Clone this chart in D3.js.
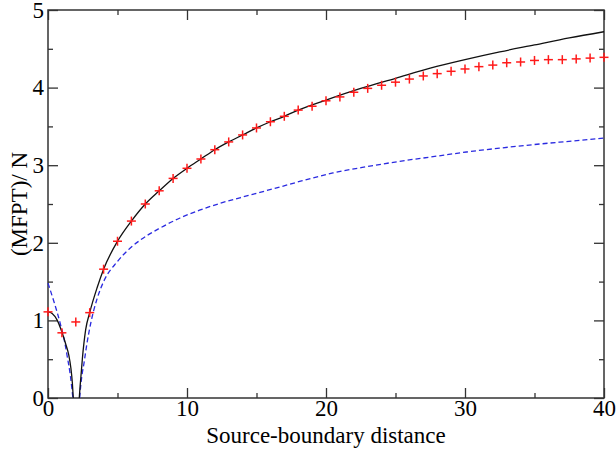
<!DOCTYPE html>
<html>
<head>
<meta charset="utf-8">
<script src="https://cdn.jsdelivr.net/npm/d3@7"></script>
<style>
  html, body { margin: 0; padding: 0; background: #fff; }
  svg { display: block; }
  text { font-family: "Liberation Serif", "Times New Roman", serif; fill: #000; }
</style>
</head>
<body>
<svg id="chart" width="616" height="453"></svg>
<script>
// ---- data ----
const simX = d3.range(0, 41); // source-boundary distances 0..40
const simY = [1.11, 0.84, 0.98, 1.10, 1.66, 2.02, 2.28, 2.50, 2.67, 2.83,
              2.96, 3.08, 3.20, 3.30, 3.39, 3.48, 3.56, 3.63, 3.71, 3.76,
              3.83, 3.88, 3.94, 3.99, 4.03, 4.07, 4.11, 4.15, 4.18, 4.21,
              4.24, 4.27, 4.29, 4.32, 4.33, 4.35, 4.36, 4.36, 4.37, 4.38, 4.39];

// black solid theory curve, left branch and right branch (clipped at 0)
const blackLeftX = [0, 0.3, 0.67, 1.0, 1.3, 1.5, 1.65, 1.75, 1.82];
const blackLeftY = [1.11, 1.09, 1.00, 0.85, 0.68, 0.55, 0.38, 0.20, 0.0];
const blackRightX = [2.25, 2.3, 2.37, 2.47, 2.71, 3.0, 3.55, 4, 5, 6, 7, 8, 9, 10, 11, 12, 13, 14, 15, 16, 17, 18,
                     20, 22.5, 25, 27.5, 30, 32.5, 35, 37.5, 40];
const blackRightY = [0.0, 0.13, 0.28, 0.50, 0.88, 1.10, 1.43, 1.66, 2.02, 2.28, 2.50, 2.67, 2.83, 2.96, 3.08, 3.20, 3.30, 3.39, 3.48, 3.56, 3.63, 3.71,
                     3.84, 3.99, 4.12, 4.25, 4.36, 4.46, 4.55, 4.64, 4.72];

// blue dashed theory curve
const blueLeftX = [0, 0.43, 0.91, 1.2, 1.39, 1.6, 1.72, 1.79];
const blueLeftY = [1.48, 1.24, 0.94, 0.72, 0.53, 0.30, 0.12, 0.0];
const blueRightX = [2.28, 2.35, 2.45, 2.59, 2.8, 3.07, 3.55, 4, 5, 5.9, 6.6, 8.06, 9.5, 10.9, 12.4, 13.8, 15.25, 16.7, 18.1,
                    20.5, 22.9, 25.3, 27.7, 30.1, 32.5, 34.9, 37.3, 40];
const blueRightY = [0.0, 0.15, 0.30, 0.45, 0.70, 0.96, 1.29, 1.50, 1.76, 1.93, 2.03, 2.19, 2.32, 2.42, 2.51, 2.58, 2.65, 2.72, 2.79,
                    2.90, 2.98, 3.05, 3.11, 3.17, 3.22, 3.265, 3.305, 3.35];

const xMajor = [0, 10, 20, 30, 40];
const xMinor = [5, 15, 25, 35];
const yMajor = [0, 1, 2, 3, 4, 5];
const yMinor = [0.5, 1.5, 2.5, 3.5, 4.5];

const xTitle = "Source-boundary distance";
const yTitle = "(MFPT)/ N";

// ---- drawing ----
const svg = d3.select("#chart");
const mLeft = 48, mRight = 604, mTop = 10, mBottom = 398;
const x = d3.scaleLinear().domain([0, 40]).range([mLeft, mRight]);
const y = d3.scaleLinear().domain([0, 5]).range([mBottom, mTop]);

const axisColor = "#333";
const fontSize = 23;
const serif = '"Liberation Serif", "Times New Roman", serif';

function styleAxis(g, labels) {
  g.attr("font-family", serif);
  g.select(".domain").remove();
  g.selectAll(".tick line").attr("stroke", axisColor).attr("stroke-width", 1.3);
  g.selectAll(".tick text").style("font-size", fontSize + "px")
    .style("font-family", serif).attr("fill", "#000");
  if (!labels) g.selectAll(".tick text").remove();
}

// bottom
svg.append("g").attr("transform", `translate(0,${mBottom})`)
  .call(d3.axisBottom(x).tickValues(xMajor).tickSize(-10).tickPadding(2).tickFormat(d3.format("d")))
  .call(g => styleAxis(g, true));
svg.append("g").attr("transform", `translate(0,${mBottom})`)
  .call(d3.axisBottom(x).tickValues(xMinor).tickSize(-5))
  .call(g => styleAxis(g, false));
// top
svg.append("g").attr("transform", `translate(0,${mTop})`)
  .call(d3.axisTop(x).tickValues(xMajor).tickSize(-10))
  .call(g => styleAxis(g, false));
svg.append("g").attr("transform", `translate(0,${mTop})`)
  .call(d3.axisTop(x).tickValues(xMinor).tickSize(-5))
  .call(g => styleAxis(g, false));
// left
svg.append("g").attr("transform", `translate(${mLeft},0)`)
  .call(d3.axisLeft(y).tickValues(yMajor).tickSize(-10).tickPadding(4).tickFormat(d3.format("d")))
  .call(g => styleAxis(g, true));
svg.append("g").attr("transform", `translate(${mLeft},0)`)
  .call(d3.axisLeft(y).tickValues(yMinor).tickSize(-5))
  .call(g => styleAxis(g, false));
// right
svg.append("g").attr("transform", `translate(${mRight},0)`)
  .call(d3.axisRight(y).tickValues(yMajor).tickSize(-10))
  .call(g => styleAxis(g, false));
svg.append("g").attr("transform", `translate(${mRight},0)`)
  .call(d3.axisRight(y).tickValues(yMinor).tickSize(-5))
  .call(g => styleAxis(g, false));

// frame
svg.append("rect").attr("x", mLeft).attr("y", mTop)
  .attr("width", mRight - mLeft).attr("height", mBottom - mTop)
  .attr("fill", "none").attr("stroke", axisColor).attr("stroke-width", 1.5);

// curves
const line = d3.line().x(d => x(d[0])).y(d => y(d[1])).curve(d3.curveMonotoneX);
function draw(xs, ys, color, dash) {
  svg.append("path").datum(d3.zip(xs, ys))
    .attr("d", line).attr("fill", "none")
    .attr("stroke", color).attr("stroke-width", 1.3)
    .attr("stroke-dasharray", dash || null);
}
draw(blueLeftX, blueLeftY, "#2a2ae0", "5,3");
draw(blueRightX, blueRightY, "#2a2ae0", "5,3");
draw(blackLeftX, blackLeftY, "#111");
draw(blackRightX, blackRightY, "#111");

// red plus markers
const s = 4.5;
const plus = svg.append("g").attr("stroke", "#ff1a1a").attr("stroke-width", 1.5);
d3.zip(simX, simY).forEach(([a, b]) => {
  const cx = x(a), cy = y(b);
  plus.append("line").attr("x1", cx - s).attr("x2", cx + s).attr("y1", cy).attr("y2", cy);
  plus.append("line").attr("x1", cx).attr("x2", cx).attr("y1", cy - s).attr("y2", cy + s);
});

// titles
svg.append("text").attr("x", (mLeft + mRight) / 2).attr("y", 443)
  .attr("text-anchor", "middle").attr("font-family", serif)
  .style("font-size", fontSize + "px").text(xTitle);
svg.append("text").attr("transform", `translate(27,${(mTop + mBottom) / 2}) rotate(-90)`)
  .attr("text-anchor", "middle").attr("font-family", serif)
  .style("font-size", fontSize + "px").text(yTitle);
</script>
</body>
</html>
